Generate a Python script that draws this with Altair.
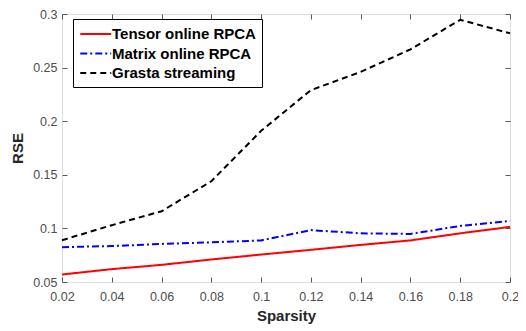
import altair as alt
import pandas as pd

sparsity = [0.02, 0.04, 0.06, 0.08, 0.10, 0.12, 0.14, 0.16, 0.18, 0.20]
tensor = [0.057, 0.062, 0.066, 0.071, 0.0756, 0.080, 0.0846, 0.0888, 0.0954, 0.1014]
matrix = [0.0825, 0.0835, 0.0855, 0.087, 0.0888, 0.0984, 0.0954, 0.0948, 0.1023, 0.1069]
grasta = [0.089, 0.103, 0.116, 0.144, 0.191, 0.229, 0.246, 0.267, 0.2946, 0.282]
series_names = ["Tensor online RPCA", "Matrix online RPCA", "Grasta streaming"]
series_colors = ["#ff0000", "#0000ff", "#000000"]
series_dash = [[1, 0], [7, 3, 2, 3], [6, 4]]
x_ticks = [0.02, 0.04, 0.06, 0.08, 0.1, 0.12, 0.14, 0.16, 0.18, 0.2]
y_ticks = [0.05, 0.1, 0.15, 0.2, 0.25, 0.3]

rows = []
for name, vals in zip(series_names, [tensor, matrix, grasta]):
    for xv, yv in zip(sparsity, vals):
        rows.append({"Sparsity": xv, "RSE": yv, "Method": name})
df = pd.DataFrame(rows)

W, H = 448, 268
FONT = "Liberation Sans"
AX = "#595959"

xscale = alt.Scale(domain=[0.02, 0.2], nice=False, zero=False)
yscale = alt.Scale(domain=[0.05, 0.3], nice=False, zero=False)

legend = alt.Legend(
    title=None, orient="none", legendX=11, legendY=5,
    fillColor="white", strokeColor="black", padding=6,
    symbolType="M-1,0H3", symbolSize=240, symbolStrokeWidth=2,
    labelFont=FONT, labelFontSize=15, labelFontWeight="bold", labelColor="black",
    labelOffset=15, rowPadding=2.5, labelLimit=300,
)

base = alt.Chart(df)

lines = base.mark_line(strokeWidth=2).encode(
    x=alt.X("Sparsity:Q", scale=xscale, axis=alt.Axis(
        orient="bottom", values=x_ticks, format=".2~f", title="Sparsity",
        ticks=False, tickSize=0, domain=False, grid=False, labelPadding=8,
        labelFlush=False,
        labelFont=FONT, labelFontSize=12.5, labelColor="#4d4d4d",
        titleFont=FONT, titleFontSize=15, titleFontWeight="bold", titleColor="#262626",
        titlePadding=6)),
    y=alt.Y("RSE:Q", scale=yscale, axis=alt.Axis(
        orient="left", values=y_ticks, format=".2~f", title="RSE",
        ticks=False, tickSize=0, domain=False, grid=False, labelPadding=5,
        labelFlush=False,
        labelFont=FONT, labelFontSize=12.5, labelColor="#4d4d4d",
        titleFont=FONT, titleFontSize=15, titleFontWeight="bold", titleColor="#262626",
        titlePadding=7)),
    color=alt.Color("Method:N", scale=alt.Scale(domain=series_names, range=series_colors), legend=legend),
    strokeDash=alt.StrokeDash("Method:N", scale=alt.Scale(domain=series_names, range=series_dash), legend=legend),
)

def tick_axis(orient, offset, vals):
    return alt.Axis(orient=orient, offset=offset, values=vals, labels=False, title=None,
                    ticks=True, tickSize=5, tickColor=AX, domain=False, grid=False)

ghostA = base.mark_line(opacity=0).encode(
    x=alt.X("Sparsity:Q", scale=xscale, axis=tick_axis("top", -H, x_ticks)),
    y=alt.Y("RSE:Q", scale=yscale, axis=tick_axis("right", -W, y_ticks)),
    detail="Method:N",
)
ghostB = base.mark_line(opacity=0).encode(
    x=alt.X("Sparsity:Q", scale=xscale, axis=tick_axis("bottom", -H, x_ticks)),
    y=alt.Y("RSE:Q", scale=yscale, axis=tick_axis("left", -W, y_ticks)),
    detail="Method:N",
)

chart = alt.layer(lines, ghostA, ghostB).resolve_axis(
    x="independent", y="independent"
).properties(
    width=W, height=H,
    autosize=alt.AutoSizeParams(type="none"),
    padding={"left": 54, "top": 6, "right": 8, "bottom": 48},
).configure_view(stroke=AX, strokeWidth=1).configure(background="white")

chart.save("out.html", embed_options={"renderer": "svg", "actions": False})
